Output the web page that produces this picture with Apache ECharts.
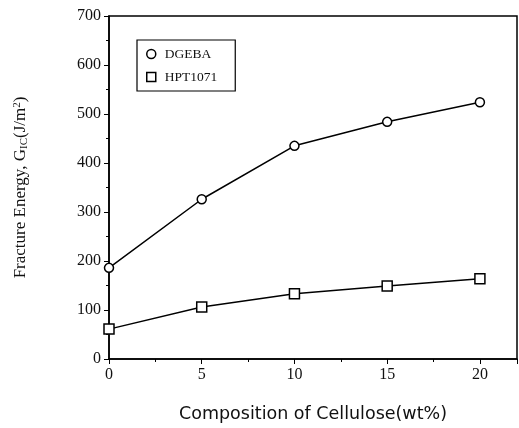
<!DOCTYPE html>
<html>
<head>
<meta charset="utf-8">
<script src="https://cdn.jsdelivr.net/npm/echarts@6/dist/echarts.min.js"></script>
<style>html,body{margin:0;padding:0;background:#fff;}#c{width:519px;height:428px;}</style>
</head>
<body>
<div id="c"></div>
<script>
var composition = [0, 5, 10, 15, 20];
var dgeba = [186, 326, 435, 484, 524];
var hpt1071 = [61, 106, 133, 149, 164];
var seriesNames = ['DGEBA', 'HPT1071'];

var serif = "'Liberation Serif', 'DejaVu Serif', serif";
var chart = echarts.init(document.getElementById('c'));
function pairs(xs, ys) { return xs.map(function (x, i) { return [x, ys[i]]; }); }
chart.setOption({
  animation: false,
  backgroundColor: '#fff',
  grid: { left: 109, right: 2, top: 16, bottom: 69, show: true, borderColor: '#000', borderWidth: 1.5 },
  legend: {
    left: 137, top: 40, orient: 'vertical',
    borderColor: '#000', borderWidth: 1.2, padding: [7, 18, 7, 9],
    itemGap: 9, itemWidth: 9, itemHeight: 9,
    itemStyle: { color: '#fff', borderColor: '#000', borderWidth: 1.5 },
    textStyle: { fontFamily: serif, fontSize: 13.5, color: '#111', padding: [0, 0, 0, 4] },
    data: [{ name: seriesNames[0], icon: 'circle' }, { name: seriesNames[1], icon: 'rect' }]
  },
  xAxis: {
    type: 'value', min: 0, max: 22, interval: 5,
    name: 'Composition of Cellulose(wt%)', nameLocation: 'middle', nameGap: 46,
    nameTextStyle: { fontFamily: "'DejaVu Sans', sans-serif", fontSize: 17.5, color: '#111' },
    axisLine: { lineStyle: { color: '#000', width: 1.5 } },
    axisTick: { inside: false, length: 5, lineStyle: { color: '#000' } },
    minorTick: { show: true, splitNumber: 2, length: 3, lineStyle: { color: '#000' } },
    splitLine: { show: false },
    axisLabel: { showMaxLabel: false, fontFamily: serif, fontSize: 16, color: '#111', margin: 8 }
  },
  yAxis: {
    type: 'value', min: 0, max: 700, interval: 100,
    name: '{n|Fracture Energy, G}{sub|IC}{n|(J/m}{sup|2}{n|)}', nameLocation: 'middle', nameGap: 79,
    nameTextStyle: {
      fontFamily: serif, fontSize: 17, color: '#111',
      rich: {
        n: { fontFamily: serif, fontSize: 17, color: '#111' },
        sub: { fontFamily: serif, fontSize: 11, color: '#111', verticalAlign: 'bottom', padding: [7, 0, 0, 0] },
        sup: { fontFamily: serif, fontSize: 11, color: '#111', verticalAlign: 'top', padding: [0, 0, 7, 0] }
      }
    },
    axisLine: { show: true, lineStyle: { color: '#000', width: 1.5 } },
    axisTick: { show: true, inside: false, length: 5, lineStyle: { color: '#000' } },
    minorTick: { show: true, splitNumber: 2, length: 3, lineStyle: { color: '#000' } },
    splitLine: { show: false },
    axisLabel: { fontFamily: serif, fontSize: 16, color: '#111', margin: 8 }
  },
  series: [
    {
      name: seriesNames[0], type: 'line', data: pairs(composition, dgeba),
      symbol: 'circle', symbolSize: 9,
      itemStyle: { color: '#fff', borderColor: '#000', borderWidth: 1.5 },
      lineStyle: { color: '#000', width: 1.5 }
    },
    {
      name: seriesNames[1], type: 'line', data: pairs(composition, hpt1071),
      symbol: 'rect', symbolSize: 10,
      itemStyle: { color: '#fff', borderColor: '#000', borderWidth: 1.5 },
      lineStyle: { color: '#000', width: 1.5 }
    }
  ]
});
</script>
</body>
</html>
